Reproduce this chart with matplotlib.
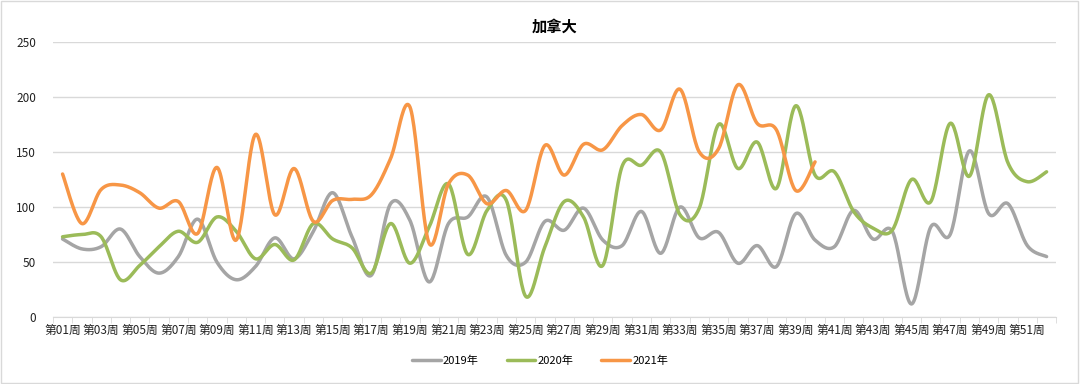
import numpy as np
import matplotlib
matplotlib.use("Agg")
import matplotlib.pyplot as plt
from matplotlib.patches import Rectangle

plt.rcParams['font.family'] = ['Noto Sans CJK SC', 'DejaVu Sans']

weeks = [f"第{i:02d}周" for i in range(1, 53)]

y2019 = [71, 62, 64, 80, 55, 40, 55, 89, 50, 34, 46, 72, 53, 78, 113, 73, 38, 103, 88, 32,
         85, 91, 109, 56, 50, 87, 79, 99, 70, 65, 96, 58, 100, 72, 77, 49, 65, 46, 94, 70,
         64, 97, 71, 78, 12, 82, 75, 151, 94, 103, 65, 55]
y2020 = [73, 75, 73, 34, 47, 64, 78, 68, 91, 78, 53, 66, 52, 85, 71, 63, 40, 85, 49, 82,
         121, 57, 97, 106, 19, 64, 105, 91, 47, 137, 138, 150, 93, 99, 175, 135, 159, 117, 192, 129,
         132, 96, 81, 79, 125, 105, 176, 128, 202, 140, 123, 132]
y2021 = [130, 85, 116, 120, 113, 99, 105, 76, 136, 70, 166, 93, 135, 87, 106, 107, 111, 144, 191, 67,
         121, 129, 103, 115, 97, 156, 129, 157, 152, 174, 184, 170, 207, 150, 153, 211, 176, 170, 115, 141]

series = [("2019年", y2019, "#a5a5a5"),
          ("2020年", y2020, "#9bbb59"),
          ("2021年", y2021, "#f79646")]


def smooth(xs, ys, n=24):
    P = np.column_stack([xs, ys]).astype(float)
    m = len(P)
    out = [P[0]]
    t = np.linspace(0, 1, n + 1)[1:][:, None]
    for i in range(m - 1):
        p0 = P[i - 1] if i > 0 else P[i]
        p1 = P[i]
        p2 = P[i + 1]
        p3 = P[i + 2] if i + 2 < m else P[i + 1]
        c1 = p1 + (p2 - p0) / 6.0
        c2 = p2 - (p3 - p1) / 6.0
        seg = ((1 - t) ** 3) * p1 + 3 * ((1 - t) ** 2) * t * c1 + 3 * (1 - t) * t ** 2 * c2 + t ** 3 * p2
        out.extend(seg)
    out = np.array(out)
    return out[:, 0], out[:, 1]


fig = plt.figure(figsize=(10.8, 3.84), dpi=100)
ax = fig.add_axes([0.049, 0.174, 0.929, 0.717])

for name, vals, col in series:
    xs = np.arange(len(vals))
    sx, sy = smooth(xs, vals)
    ax.plot(sx, sy, color=col, lw=2.5, label=name, solid_capstyle='round')

n = len(weeks)
ax.set_xlim(-0.5, n - 0.5)
ax.set_ylim(0, 250)
ax.set_yticks([0, 50, 100, 150, 200, 250])
ax.yaxis.grid(True, color="#d9d9d9", lw=1)
ax.set_axisbelow(True)
for s in ["top", "right", "left"]:
    ax.spines[s].set_visible(False)
ax.spines["bottom"].set_color("#d9d9d9")
ax.tick_params(axis='y', length=0, labelsize=8.5, pad=12, colors="#222222")

ax.set_xticks(np.arange(0, n, 2))
ax.set_xticklabels(weeks[::2], fontsize=8.5, color="#222222")
ax.set_xticks(np.arange(-0.5, n, 1), minor=True)
ax.tick_params(axis='x', which='major', length=0, pad=5)
ax.tick_params(axis='x', which='minor', length=4, color="#d9d9d9", direction='out')

ax.set_title("加拿大", fontsize=11, fontweight='bold', pad=7)

leg = fig.legend(loc='lower center', bbox_to_anchor=(0.5, 0.02), ncol=3, frameon=False,
                 fontsize=8, handlelength=2.6, columnspacing=2.5, handletextpad=0.2)

fig.add_artist(Rectangle((0.001, 0.002), 0.997, 0.995, transform=fig.transFigure,
                         fill=False, edgecolor="#d9d9d9", lw=1))

fig.savefig("out.png", dpi=100)
